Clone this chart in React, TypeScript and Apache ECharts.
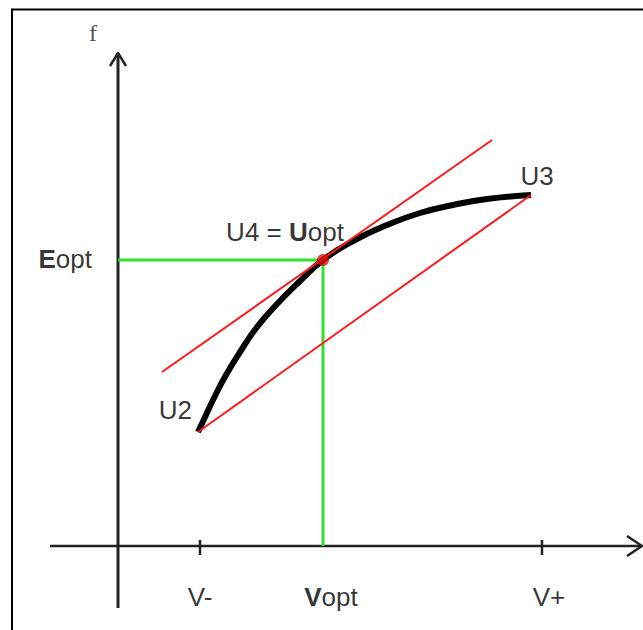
import React, { useEffect, useRef } from "react";
import * as echarts from "echarts";

// Data (chart units: origin at the axes' crossing)
const curvePoints: number[][] = [
  [80, 114], [88, 131], [97, 150], [108, 171], [122, 194], [139, 219], [160, 243],
  [182, 265], [205, 286], [235, 305], [269, 321], [302, 333], [335, 341], [369, 347], [413, 351],
];
const pointU2 = [80, 114];
const pointU3 = [413, 351];
const pointU4 = [205, 286];
const tangentLine: number[][] = [[44, 174], [374, 406]];
const xAxisExtent = [-68, 524];
const yAxisExtent = [-62, 493];
const tickValues = [82, 424];
const tickLabels = ["V-", "Vopt", "V+"];
const tickLabelValues = [82, 205, 424];

const FONT = "'Liberation Sans', Arial, sans-serif";
const FS = 26;

function seg(data: any[], color: string, width: number, z: number, extra: any = {}) {
  return {
    type: "line",
    data,
    symbol: "none",
    silent: true,
    z,
    lineStyle: { color, width, cap: "butt", join: "round" },
    ...extra,
  };
}

function richLabel(text: string) {
  if (text === "Vopt" || text === "Eopt") return `{b|${text[0]}}{n|${text.slice(1)}}`;
  return `{n|${text}}`;
}

const rich = {
  b: { fontFamily: FONT, fontSize: FS, fontWeight: "bold", color: "#000" },
  n: { fontFamily: FONT, fontSize: FS, color: "#000" },
};

export default function App() {
  const ref = useRef<HTMLDivElement>(null);
  useEffect(() => {
    if (!ref.current) return;
    const chart = echarts.init(ref.current, null, { renderer: "svg", width: 643, height: 630 });
    const axisColor = "#222";
    const arrowX = xAxisExtent[1];
    const arrowY = yAxisExtent[1];
    const tickOffsets: Record<string, number> = { "V-": 0, Vopt: 8, "V+": 7 };

    const labelData: any[] = [
      ...tickLabels.map((t, i) => ({
        value: [tickLabelValues[i], 0],
        label: { formatter: richLabel(t), offset: [tickOffsets[t], 51] },
      })),
      {
        value: [0, pointU4[1]],
        label: { formatter: richLabel("Eopt"), align: "right", offset: [-26, -1] },
      },
      {
        value: pointU2,
        label: { formatter: richLabel("U2"), align: "right", offset: [-6, -22] },
      },
      {
        value: pointU3,
        label: { formatter: richLabel("U3"), offset: [6, -19] },
      },
      {
        value: pointU4,
        label: { formatter: "{n|U4 = }{b|U}{n|opt}", offset: [-38, -28] },
      },
      {
        value: [0, arrowY],
        label: {
          formatter: "{f|f}",
          offset: [-25, -20],
          rich: { f: { fontFamily: "'Liberation Serif', 'Times New Roman', serif", fontSize: 24, color: "#222" } },
        },
      },
    ];

    const option: any = {
      animation: false,
      backgroundColor: "#fff",
      grid: { left: 0, right: 0, top: 0, bottom: 0, containLabel: false },
      xAxis: { type: "value", min: -118, max: 525, show: false },
      yAxis: { type: "value", min: -84, max: 546, show: false },
      graphic: [
        {
          type: "rect",
          shape: { x: 12, y: 9.5, width: 800, height: 800 },
          style: { fill: "none", stroke: "#000", lineWidth: 2 },
          silent: true,
          z: 100,
        },
      ],
      series: [
        // axes
        seg([[xAxisExtent[0], 0], [arrowX, 0]], axisColor, 2.5, 2),
        seg([[0, yAxisExtent[0]], [0, arrowY]], axisColor, 3, 2),
        seg([[arrowX - 15, 10], [arrowX, 0], [arrowX - 15, -10]], axisColor, 2.5, 2),
        seg([[-8, arrowY - 13], [0, arrowY], [8, arrowY - 13]], axisColor, 2.5, 2),
        ...tickValues.map((v) => seg([[v, -9], [v, 6]], axisColor, 2.5, 2)),
        // optimum guides
        seg([[0, pointU4[1]], pointU4, [pointU4[0], 0]], "#2fe02f", 3, 3),
        // curve
        seg(curvePoints, "#000", 6, 4, { smooth: 0.5 }),
        // red lines
        seg(tangentLine, "#ff1a1a", 2, 5),
        seg([pointU2, pointU3], "#ff1a1a", 2, 5),
        // optimum point
        {
          type: "scatter",
          data: [pointU4],
          symbolSize: 12,
          itemStyle: { color: "#dd1111" },
          silent: true,
          z: 6,
        },
        // labels
        {
          type: "scatter",
          data: labelData,
          symbolSize: 0,
          silent: true,
          z: 7,
          label: {
            show: true,
            position: "inside",
            align: "center",
            verticalAlign: "middle",
            fontFamily: FONT,
            fontSize: FS,
            color: "#000",
            rich,
          },
        },
      ],
    };
    chart.setOption(option);
    return () => chart.dispose();
  }, []);
  return (
    <div
      ref={ref}
      style={{ position: "absolute", left: 0, top: 0, width: 643, height: 630, background: "#fff" }}
    />
  );
}
